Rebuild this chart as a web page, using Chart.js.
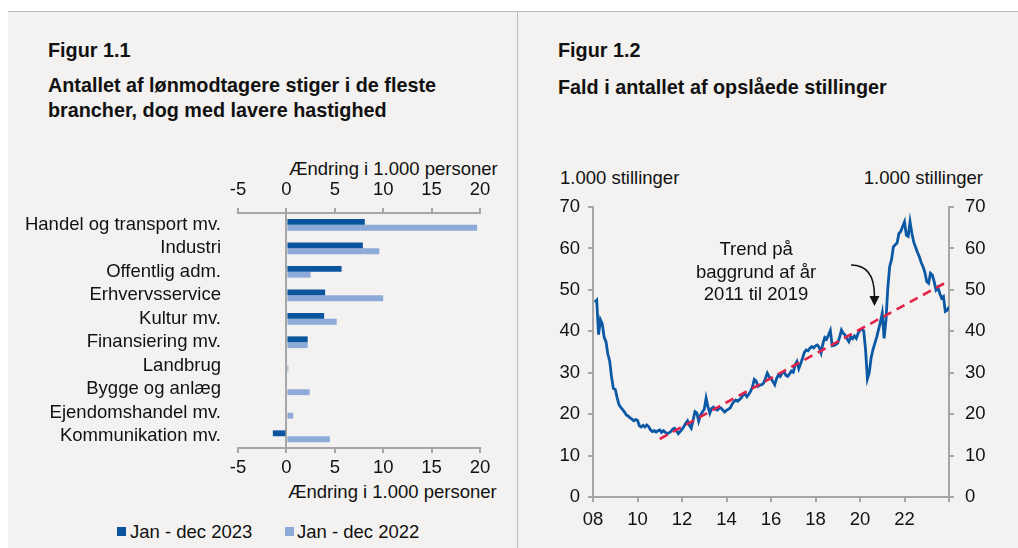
<!DOCTYPE html>
<html>
<head>
<meta charset="utf-8">
<script src="https://cdn.jsdelivr.net/npm/chart.js@4.4.1/dist/chart.umd.min.js"></script>
<style>
  html, body { margin: 0; padding: 0; width: 1018px; height: 548px; overflow: hidden; background: #fff;
    font-family: Arial, "Liberation Sans", sans-serif; color: #111; }
  #panel { position: absolute; left: 8px; top: 11px; width: 1010px; height: 537px; background: #f3f2f0; border-top: 1px solid #bdbcba; }
  #divider { position: absolute; left: 517px; top: 11px; width: 1px; height: 537px; background: #bdbcba; }
  .t { position: absolute; white-space: nowrap; font-size: 18.5px; line-height: 22px; }
  .b { font-weight: bold; font-size: 19.8px; }
  .sq { position: absolute; width: 9px; height: 9px; }
  canvas { position: absolute; }
</style>
</head>
<body>
<div id="panel"></div>
<div id="divider"></div>

<div class="t b" style="left:48px;top:39px">Figur 1.1</div>
<div class="t b" style="left:48px;top:74px">Antallet af lønmodtagere stiger i de fleste</div>
<div class="t b" style="left:48px;top:99px">brancher, dog med lavere hastighed</div>
<div class="t" style="left:289px;top:158px">Ændring i 1.000 personer</div>
<div class="t" style="left:288px;top:481px">Ændring i 1.000 personer</div>
<div class="sq" style="left:117px;top:527px;background:#0a559d"></div>
<div class="t" style="left:130px;top:521px">Jan - dec 2023</div>
<div class="sq" style="left:285px;top:527px;background:#8eaad9"></div>
<div class="t" style="left:297px;top:521px">Jan - dec 2022</div>

<div class="t b" style="left:558px;top:39px">Figur 1.2</div>
<div class="t b" style="left:558px;top:76px">Fald i antallet af opslåede stillinger</div>
<div class="t" style="left:560px;top:167px">1.000 stillinger</div>
<div class="t" style="right:35px;top:167px">1.000 stillinger</div>

<canvas id="bars" width="517" height="352" style="left:0;top:150px"></canvas>
<canvas id="lines" width="501" height="390" style="left:517px;top:150px"></canvas>

<script>
// Figur 1.1 - change in employees by industry (1.000 persons)
const industries = ["Handel og transport mv.", "Industri", "Offentlig adm.", "Erhvervsservice", "Kultur mv.",
  "Finansiering mv.", "Landbrug", "Bygge og anlæg", "Ejendomshandel mv.", "Kommunikation mv."];
const change2023 = [8.1, 7.9, 5.7, 4.0, 3.9, 2.2, 0.1, 0.0, -0.1, -1.4];
const change2022 = [19.7, 9.6, 2.5, 10.0, 5.2, 2.2, 0.2, 2.4, 0.7, 4.5];
const barMin = -5, barMax = 20, barStep = 5;

// Figur 1.2 - job postings, monthly from jan 2008 (1.000 positions)
const firstYear = 2008;
const postings = [
  47.0, 47.5, 39.2, 42.8, 41.8, 38.6, 37.5, 34.5, 32.8, 29.0, 26.2, 26.0,
  24.0, 22.3, 21.6, 21.1, 20.5, 19.8, 19.5, 19.1, 18.8, 18.4, 18.7, 18.5,
  17.2, 16.9, 17.3, 16.9, 17.4, 17.0, 16.2, 15.8, 16.0, 15.7, 16.0, 16.2,
  15.6, 16.0, 15.6, 15.3, 15.5, 15.8, 16.4, 16.6, 16.0, 15.3, 15.8, 16.3,
  17.0, 17.8, 18.4, 17.3, 16.6, 18.6, 20.6, 20.3, 18.3, 19.8, 20.5, 21.2,
  23.9, 21.8, 20.2, 21.4, 21.7, 21.2, 21.0, 21.4, 21.5, 21.0, 20.5, 20.9,
  21.2, 21.5, 22.4, 23.0, 23.4, 23.1, 23.5, 23.9, 24.7, 24.9, 24.2, 24.8,
  25.5, 26.6, 28.4, 28.0, 26.7, 27.0, 27.1, 27.5, 28.6, 29.9, 29.0, 28.6,
  27.9, 27.1, 28.6, 29.5, 29.1, 29.9, 30.3, 29.4, 29.1, 29.7, 30.4, 30.1,
  31.9, 32.7, 31.0, 32.2, 33.5, 34.9, 35.5, 35.3, 35.9, 36.3, 36.0, 36.5,
  36.7, 36.1, 34.8, 37.0, 38.5, 38.1, 39.1, 40.2, 36.5, 36.6, 36.8, 37.2,
  38.6, 40.3, 39.5, 39.1, 38.2, 37.5, 38.7, 38.2, 38.9, 38.3, 39.5, 40.3,
  40.5, 40.1, 35.5, 28.5, 30.0, 33.6, 35.6, 37.1, 38.6, 40.4, 42.2, 44.4,
  38.3, 42.7, 50.5, 55.6, 57.3, 60.4, 60.9, 61.3, 63.6, 64.1, 65.3, 66.4,
  63.2, 62.9, 66.4, 63.6, 61.5, 60.3, 59.0, 58.0, 56.6, 55.6, 54.2, 52.0,
  51.6, 54.0, 53.6, 52.0, 50.0, 50.6, 49.2, 48.0, 48.4, 44.8, 45.1, 45.9
];
const trendYears = [2011, 2024];
const trendValues = [14.0, 52.2];
const lineMin = 0, lineMax = 70, lineStep = 10;
const yearMin = 2008, yearMax = 2024, yearStep = 2;
const noteLines = ["Trend på", "baggrund af år", "2011 til 2019"];
const noteAt = [2015.33, 59.6];
const arrowFrom = [2019.6, 56.0];
const arrowTo = [2020.65, 46.1];

const gray = '#a6a6a6';
const font = 'Arial, "Liberation Sans", sans-serif';
Chart.defaults.font.family = font;
Chart.defaults.font.size = 18.5;
Chart.defaults.color = '#111';

const axisGrid = { drawOnChartArea: false, tickColor: gray, tickLength: 5, lineWidth: 2 };
const axisBorder = { color: gray, width: 2 };

new Chart(document.getElementById('bars'), {
  type: 'bar',
  data: {
    labels: industries,
    datasets: [
      { label: 'Jan - dec 2023', data: change2023, backgroundColor: '#0a559d', xAxisID: 'x' },
      { label: 'Jan - dec 2022', data: change2022, backgroundColor: '#8eaad9', xAxisID: 'x' }
    ]
  },
  options: {
    indexAxis: 'y',
    responsive: false,
    animation: false,
    devicePixelRatio: 1,
    categoryPercentage: 0.5,
    barPercentage: 1,
    layout: { padding: { left: 0, right: 37, top: 0, bottom: 0 } },
    plugins: { legend: { display: false }, tooltip: { enabled: false } },
    scales: {
      x: {
        type: 'linear', position: 'bottom', min: barMin, max: barMax,
        ticks: { stepSize: barStep, padding: 4 },
        grid: { color: c => (c.tick && c.tick.value === 0 ? gray : 'transparent'), lineWidth: 2, tickColor: gray, tickLength: 5 },
        border: axisBorder,
        afterFit: s => { s.height = 54; }
      },
      x2: {
        type: 'linear', position: 'top', min: barMin, max: barMax,
        ticks: { stepSize: barStep, padding: 7 },
        grid: axisGrid,
        border: axisBorder,
        afterFit: s => { s.height = 63; }
      },
      y: {
        ticks: { padding: 17, autoSkip: false },
        grid: { display: false, drawTicks: false },
        border: { display: false },
        afterFit: s => { s.width = 238; }
      }
    }
  }
});

const notePlugin = {
  id: 'note',
  afterDatasetsDraw(chart) {
    const { ctx, scales: { x, y } } = chart;
    ctx.save();
    ctx.fillStyle = '#111';
    ctx.font = '18.5px ' + font;
    ctx.textAlign = 'center';
    ctx.textBaseline = 'middle';
    const nx = x.getPixelForValue(noteAt[0]);
    const ny = y.getPixelForValue(noteAt[1]);
    noteLines.forEach((t, i) => ctx.fillText(t, nx, ny + i * 22.5));

    const sx = x.getPixelForValue(arrowFrom[0]), sy = y.getPixelForValue(arrowFrom[1]);
    const tx = x.getPixelForValue(arrowTo[0]), ty = y.getPixelForValue(arrowTo[1]);
    ctx.strokeStyle = '#111';
    ctx.lineWidth = 1.5;
    ctx.beginPath();
    ctx.moveTo(sx, sy);
    ctx.quadraticCurveTo(tx, sy, tx, ty - 10);
    ctx.stroke();
    ctx.beginPath();
    ctx.moveTo(tx - 5, ty - 10);
    ctx.lineTo(tx + 5, ty - 10);
    ctx.lineTo(tx, ty);
    ctx.closePath();
    ctx.fill();
    ctx.restore();
  }
};

new Chart(document.getElementById('lines'), {
  type: 'line',
  data: {
    datasets: [
      {
        data: postings.map((v, i) => ({ x: firstYear + (i + 1) / 12, y: v })),
        borderColor: '#0b58a5', borderWidth: 2.8, pointRadius: 0, order: 1
      },
      {
        data: trendYears.map((yr, i) => ({ x: yr, y: trendValues[i] })),
        borderColor: '#e3224a', borderWidth: 2.6, borderDash: [9, 6], pointRadius: 0, order: 0
      }
    ]
  },
  options: {
    responsive: false,
    animation: false,
    devicePixelRatio: 1,
    layout: { padding: { left: 0, right: 0, top: 57, bottom: 0 } },
    plugins: { legend: { display: false }, tooltip: { enabled: false } },
    scales: {
      x: {
        type: 'linear', min: yearMin, max: yearMax,
        ticks: { stepSize: yearStep, padding: 7, autoSkip: false, callback: v => (v < yearMax ? String(v).slice(2) : '') },
        grid: axisGrid, border: axisBorder,
        afterFit: s => { s.height = 43; }
      },
      y: {
        position: 'left', min: lineMin, max: lineMax,
        ticks: { stepSize: lineStep, padding: 8 },
        grid: axisGrid, border: axisBorder,
        afterFit: s => { s.width = 76; }
      },
      y2: {
        type: 'linear', position: 'right', min: lineMin, max: lineMax,
        ticks: { stepSize: lineStep, padding: 11 },
        grid: axisGrid, border: axisBorder,
        afterFit: s => { s.width = 69; }
      }
    }
  },
  plugins: [notePlugin]
});
</script>
</body>
</html>
